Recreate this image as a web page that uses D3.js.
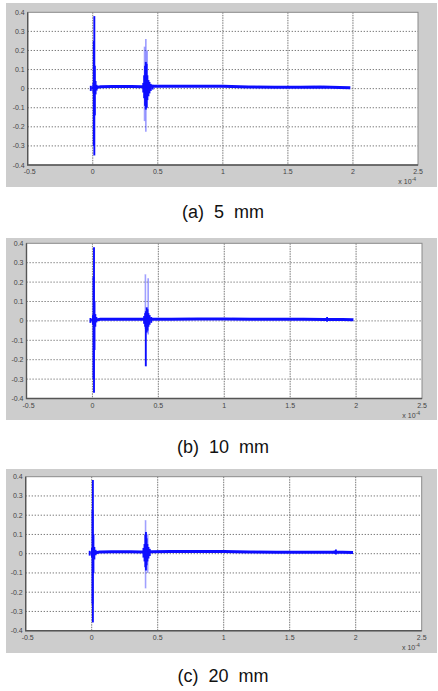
<!DOCTYPE html>
<html lang="en">
<head>
<meta charset="UTF-8">
<title>D3</title>
<script src="https://cdn.jsdelivr.net/npm/d3@7"></script>
<style>
    body { margin: 0; background: #fff; }
    svg { display: block; }
    .tick-lbl { font-family: "Liberation Sans", Arial, sans-serif; font-size: 7px; fill: #444; }
    .caption { font-family: "Liberation Sans", Arial, sans-serif; font-size: 18px; fill: #111; white-space: pre; }
</style>
</head>
<body>
<svg id="main-svg" width="438" height="691"></svg>
<script>
// axis ticks (time in units of 1e-4 s, amplitude in V)
const xTicks = [-0.5, 0, 0.5, 1, 1.5, 2, 2.5];
const yTicks = [-0.4, -0.3, -0.2, -0.1, 0, 0.1, 0.2, 0.3, 0.4];
const captions = ['(a)  5  mm', '(b)  10  mm', '(c)  20  mm'];

// main trace centre line [t, v]
const traceA = [[-0.01,0.003],[0.03,0.006],[0.06,0.01],[0.15,0.011],[0.3,0.011],[0.38,0.01],[0.45,0.013],[0.55,0.012],[0.8,0.013],[1.0,0.012],[1.2,0.009],[1.4,0.007],[1.6,0.007],[1.75,0.008],[1.9,0.006],[1.98,0.005]];
const traceB = [[-0.01,0.004],[0.03,0.005],[0.06,0.008],[0.15,0.008],[0.3,0.008],[0.38,0.008],[0.45,0.009],[0.6,0.009],[0.8,0.01],[1.0,0.01],[1.2,0.009],[1.4,0.008],[1.6,0.008],[1.76,0.007],[1.9,0.007],[1.98,0.006]];
const traceC = [[-0.01,0.003],[0.03,0.005],[0.06,0.009],[0.15,0.01],[0.3,0.01],[0.38,0.009],[0.45,0.01],[0.6,0.011],[0.8,0.011],[1.0,0.011],[1.2,0.009],[1.4,0.008],[1.6,0.008],[1.8,0.008],[1.9,0.007],[1.98,0.006]];

// solid vertical excursions [t, low, high]
const strongA = [[-0.015,-0.012,0.015],[0.005,-0.02,0.03],[0.008,-0.30,0.25],[0.012,-0.35,0.38],[0.016,-0.14,0.12],[0.022,-0.03,0.04],[0.03,-0.01,0.02],
                 [0.388,-0.02,0.03],[0.395,-0.05,0.07],[0.402,-0.09,0.12],[0.408,-0.11,0.14],[0.414,-0.1,0.13],[0.42,-0.06,0.07],[0.428,-0.04,0.045],[0.436,-0.025,0.035],[0.446,-0.012,0.025],[0.46,-0.005,0.02]];
const faintA = [[0.398,-0.17,0.22],[0.408,-0.226,0.26],[0.418,-0.1,0.2]];

const strongB = [[-0.015,-0.01,0.015],[0.004,-0.02,0.03],[0.008,-0.30,0.227],[0.012,-0.37,0.38],[0.016,-0.15,0.1],[0.022,-0.03,0.035],[0.03,-0.008,0.02],
                 [0.392,-0.015,0.025],[0.4,-0.03,0.04],[0.405,-0.234,0.05],[0.412,-0.06,0.07],[0.418,-0.05,0.06],[0.425,-0.03,0.04],[0.434,-0.02,0.03],[0.446,-0.01,0.02],
                 [1.77,0.0,0.014],[1.78,-0.004,0.02],[1.79,0.0,0.012]];
const faintB = [[0.402,-0.04,0.24],[0.423,-0.07,0.22]];

const strongC = [[-0.015,-0.01,0.015],[0.002,-0.02,0.03],[0.006,-0.26,0.226],[0.009,-0.357,0.383],[0.013,-0.1,0.1],[0.02,-0.03,0.035],[0.03,-0.008,0.02],
                 [0.392,-0.02,0.03],[0.4,-0.04,0.05],[0.406,-0.07,0.1],[0.411,-0.087,0.113],[0.416,-0.06,0.08],[0.422,-0.04,0.05],[0.43,-0.025,0.035],[0.44,-0.012,0.025],
                 [1.84,0.0,0.016],[1.85,-0.004,0.022]];
const faintC = [[0.408,-0.18,0.174],[0.424,-0.1,0.1]];

const panels = [
    {gray: [6, 3, 431, 184],   plot: [27.7, 418, 12.3, 165],  trace: traceA, strong: strongA, faint: faintA, capY: 218},
    {gray: [6, 238, 431, 182], plot: [26.5, 422, 243.3, 398.5], trace: traceB, strong: strongB, faint: faintB, capY: 453},
    {gray: [6, 469, 431, 184], plot: [25.7, 421.7, 476.7, 630.7], trace: traceC, strong: strongC, faint: faintC, capY: 682}
];

const svg = d3.select('#main-svg');
const defs = svg.append('defs');
defs.append('filter').attr('id', 'soft')
    .append('feGaussianBlur').attr('stdDeviation', 0.5);

panels.forEach((p, k) => {
    const [x0, x1, y0, y1] = p.plot;
    const x = d3.scaleLinear().domain([-0.5, 2.5]).range([x0, x1]);
    const y = d3.scaleLinear().domain([-0.4, 0.4]).range([y1, y0]);
    const g = svg.append('g');

    g.append('rect')
        .attr('x', p.gray[0]).attr('y', p.gray[1])
        .attr('width', p.gray[2]).attr('height', p.gray[3])
        .attr('fill', '#cdcdcd');
    g.append('rect')
        .attr('x', x0).attr('y', y0)
        .attr('width', x1 - x0).attr('height', y1 - y0)
        .attr('fill', '#fff');

    // grid
    g.selectAll('.hgrid').data(yTicks.slice(1, -1)).enter().append('line')
        .attr('x1', x0).attr('x2', x1)
        .attr('y1', d => y(d)).attr('y2', d => y(d))
        .attr('stroke', '#6a6a6a').attr('stroke-width', 1)
        .attr('stroke-dasharray', '1.2,1.8');
    g.selectAll('.vgrid').data(xTicks.slice(1, -1)).enter().append('line')
        .attr('x1', d => x(d)).attr('x2', d => x(d))
        .attr('y1', y0).attr('y2', y1)
        .attr('stroke', '#777').attr('stroke-width', 1)
        .attr('stroke-dasharray', '1.5,1');

    // signal
    const clipId = 'clip' + k;
    defs.append('clipPath').attr('id', clipId).append('rect')
        .attr('x', x0).attr('y', y0).attr('width', x1 - x0).attr('height', y1 - y0);
    const sg = g.append('g').attr('clip-path', 'url(#' + clipId + ')').attr('filter', 'url(#soft)');

    sg.selectAll('.faint').data(p.faint).enter().append('line')
        .attr('x1', d => x(d[0])).attr('x2', d => x(d[0]))
        .attr('y1', d => y(d[1])).attr('y2', d => y(d[2]))
        .attr('stroke', '#2a2aff').attr('stroke-opacity', 0.45).attr('stroke-width', 1.6);

    sg.append('path')
        .datum(p.trace)
        .attr('d', d3.line().x(d => x(d[0])).y(d => y(d[1])))
        .attr('fill', 'none').attr('stroke', '#1010ff').attr('stroke-width', 3);

    sg.selectAll('.strong').data(p.strong).enter().append('line')
        .attr('x1', d => x(d[0])).attr('x2', d => x(d[0]))
        .attr('y1', d => y(d[1])).attr('y2', d => y(d[2]))
        .attr('stroke', '#1010ff').attr('stroke-width', 1.9);

    // box
    g.append('rect')
        .attr('x', x0).attr('y', y0)
        .attr('width', x1 - x0).attr('height', y1 - y0)
        .attr('fill', 'none').attr('stroke', '#8a8a8a').attr('stroke-width', 1);
    g.append('path')
        .attr('d', `M${x0},${y0}V${y1}H${x1}`)
        .attr('fill', 'none').attr('stroke', '#555').attr('stroke-width', 1.4);

    // tick labels
    g.selectAll('.ylbl').data(yTicks).enter().append('text')
        .attr('class', 'tick-lbl')
        .attr('x', x0 - 3).attr('y', d => y(d) + 2.5)
        .attr('text-anchor', 'end')
        .text(d => d === 0 ? '0' : d.toFixed(1));
    g.selectAll('.xlbl').data(xTicks).enter().append('text')
        .attr('class', 'tick-lbl')
        .attr('x', (d, i) => x(d) + (i === 0 ? 2 : 0)).attr('y', y1 + 9)
        .attr('text-anchor', 'middle')
        .text(d => String(d));
    const ex = g.append('text').attr('class', 'tick-lbl')
        .attr('x', x1 - 2).attr('y', y1 + 19).attr('text-anchor', 'end');
    ex.append('tspan').text('x 10');
    ex.append('tspan').attr('dy', -3).attr('font-size', '5px').text('-4');

    // caption
    svg.append('text').attr('class', 'caption')
        .attr('x', 223).attr('y', p.capY)
        .attr('text-anchor', 'middle')
        .text(captions[k]);
});
</script>
</body>
</html>
